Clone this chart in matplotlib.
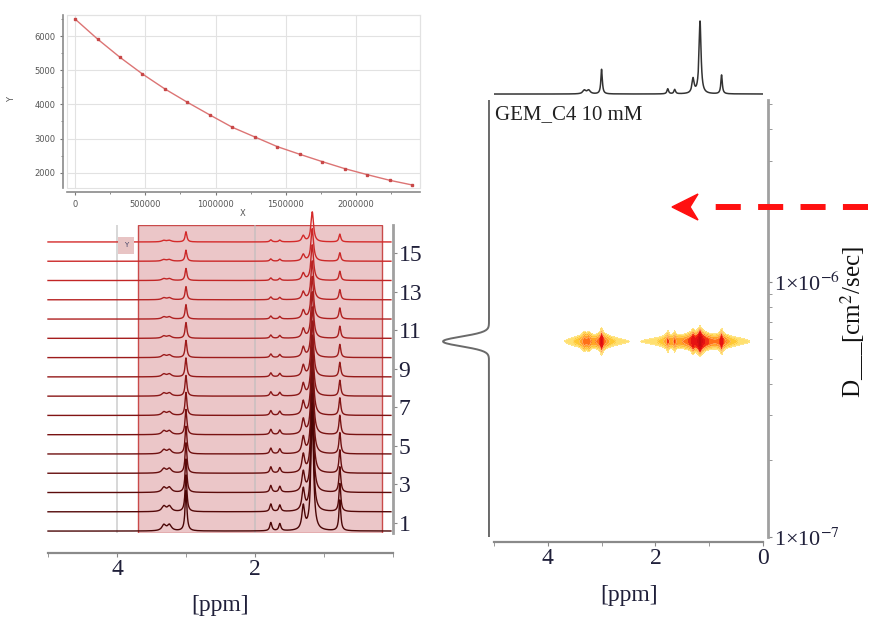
import numpy as np
import matplotlib
matplotlib.use("Agg")
import matplotlib.pyplot as plt
from matplotlib.ticker import AutoMinorLocator, FixedLocator, NullFormatter
from matplotlib.patches import Polygon, Rectangle
from matplotlib.lines import Line2D
from matplotlib.colors import to_rgb

# decay of the signal intensity with gradient strength (top left)
decay_x = [0, 160000, 320000, 480000, 640000, 800000, 960000, 1120000,
           1280000, 1440000, 1600000, 1760000, 1920000, 2080000, 2240000, 2400000]
decay_y = [6498, 5912, 5376, 4888, 4449, 4059, 3688, 3327,
           3044, 2761, 2537, 2322, 2117, 1941, 1776, 1639]

# 1H peaks of the sample: position (ppm), relative height, half width (ppm)
peak_ppm = [3.32, 3.24, 3.00, 1.77, 1.64, 1.30, 1.17, 0.77]
peak_height = [0.05, 0.05, 0.34, 0.07, 0.06, 0.20, 1.00, 0.26]
peak_width = [0.035, 0.035, 0.016, 0.018, 0.018, 0.024, 0.022, 0.016]

trace_numbers = list(range(1, 17))
stack_ticks = [1, 3, 5, 7, 9, 11, 13, 15]
integration_region = (0.16, 3.70)

# diffusion coefficient of the cross peaks (cm^2/s)
diffusion_D = 5.86e-7
D_limits = (1e-7, 5.2e-6)

W, H = 883, 621
serif = ["Liberation Serif", "DejaVu Serif"]
plt.rcParams["mathtext.fontset"] = "stix"


# converts a pixel box (top-left origin) to a figure rect
def px_rect(x0, y0, x1, y1):
    return [x0 / W, 1 - y1 / H, (x1 - x0) / W, (y1 - y0) / H]


def spectrum(ppm, width_scale=1.0):
    s = np.zeros_like(ppm)
    for c, h, w in zip(peak_ppm, peak_height, peak_width):
        w = w * width_scale
        s += h * w ** 2 / (w ** 2 + (ppm - c) ** 2)
    return s / s.max()


fig = plt.figure(figsize=(W / 100, H / 100), dpi=100)

# ---- decay curve ----
ax1 = fig.add_axes(px_rect(67, 15, 420, 188))
ax1.plot(decay_x, decay_y, color="#dc7474", lw=1, marker="s", ms=1.6,
         mfc="#c84848", mec="#c84848")
ax1.set_xlim(-57000, 2454000)
ax1.set_ylim(1552, 6615)
ax1.set_xticks([0, 500000, 1000000, 1500000, 2000000])
ax1.set_yticks([2000, 3000, 4000, 5000, 6000])
ax1.xaxis.set_minor_locator(AutoMinorLocator(2))
ax1.yaxis.set_minor_locator(AutoMinorLocator(2))
ax1.ticklabel_format(style="plain", useOffset=False)
ax1.grid(True, color="#e2e2e2", lw=0.8)
ax1.set_axisbelow(True)
for side in ["top", "right"]:
    ax1.spines[side].set_color("#e2e2e2")
for side in ["left", "bottom"]:
    ax1.spines[side].set_position(("outward", 3))
    ax1.spines[side].set_color("#8a8a8a")
    ax1.spines[side].set_linewidth(1.2)
ax1.add_patch(Rectangle((0, 0), 1, 1, transform=ax1.transAxes, fill=False,
                        ec="#e2e2e2", lw=0.8, clip_on=False))
ax1.tick_params(which="both", labelsize=6, colors="#777", labelcolor="#555", length=2)
ax1.tick_params(which="minor", length=1.5)
fig.text(12 / W, 1 - 100 / H, "Y", rotation=90, fontsize=6, color="#555",
         ha="center", va="center")
fig.text(243 / W, 1 - 213 / H, "X", fontsize=6, color="#555", ha="center", va="center")

# ---- stacked spectra ----
ax2 = fig.add_axes(px_rect(48, 225, 393, 533))
ppm = np.linspace(0.03, 5.0, 4000)
s_narrow = spectrum(ppm)
att = np.array(decay_y) / decay_y[0]
c_top = np.array(to_rgb("#d42a2a"))
c_bot = np.array(to_rgb("#4a0606"))
ax2.axvspan(*integration_region, fc="#ebc6c8", ec="#c94a4a", lw=1, zorder=0)
for x in [4, 2]:
    ax2.axvline(x, color="#bdbdbd", lw=1.2, alpha=0.7, zorder=0.5)
for i in range(len(trace_numbers) - 1, -1, -1):
    f = i / (len(trace_numbers) - 1)
    col = c_bot + (c_top - c_bot) * f
    base = trace_numbers[i] - 0.42
    ax2.plot(ppm, base + 6.2 * att[i] * s_narrow, color=col, lw=1.0,
             clip_on=False, zorder=2)
ax2.text(3.87, 15.4, "Y", fontsize=5, color="#446", ha="center", va="center",
         bbox=dict(fc="#e8c4c4", ec="none", pad=4), zorder=3)
ax2.set_xlim(5, 0)
ax2.set_ylim(0.48, 16.46)
ax2.spines["top"].set_visible(False)
ax2.spines["left"].set_visible(False)
ax2.spines["right"].set_color("#a0a0a0")
ax2.spines["right"].set_linewidth(2)
ax2.spines["bottom"].set_position(("outward", 14.4))
ax2.spines["bottom"].set_color("#8a8a8a")
ax2.spines["bottom"].set_linewidth(1.6)
ax2.yaxis.tick_right()
ax2.set_yticks(stack_ticks)
ax2.set_xticks([4, 2])
ax2.xaxis.set_minor_locator(FixedLocator([5, 3, 1, 0]))
ax2.tick_params(which="both", colors="#888", labelcolor="#20203a", labelsize=17,
                length=3, pad=1)
for lab in ax2.get_xticklabels() + ax2.get_yticklabels():
    lab.set_family(serif)
fig.text(220 / W, 1 - 606 / H, "[ppm]", fontsize=17, family=serif, color="#20203a",
         ha="center", va="center")

# ---- 1D projection on top of the DOSY map ----
ax3 = fig.add_axes(px_rect(494, 15, 763, 96))
ppm_full = np.linspace(0, 5, 4000)
ax3.plot(ppm_full, spectrum(ppm_full), color="#333", lw=1.1)
ax3.set_xlim(5, 0)
ax3.set_ylim(-0.027, 1.082)
ax3.axis("off")

# ---- DOSY map ----
ax4 = fig.add_axes(px_rect(494, 100, 763, 537))
logD = np.linspace(np.log10(D_limits[0]), np.log10(D_limits[1]), 800)
dlog = logD - np.log10(diffusion_D)
g_core = np.exp(-dlog ** 2 / (2 * 0.019 ** 2))
g_wing = np.exp(-dlog ** 2 / (2 * 0.013 ** 2))
Z = (g_core[:, None] * spectrum(ppm_full, width_scale=0.8)[None, :]
     + 0.25 * g_wing[:, None] * spectrum(ppm_full, width_scale=5.0)[None, :])
levels = 0.006 * 2.0 ** np.arange(9)
cols = ["#ffe070", "#ffc832", "#ffa424", "#ff7018", "#f43414", "#e61212",
        "#d80c10", "#c80a10"]
ax4.contourf(ppm_full, 10 ** logD, Z, levels=levels, colors=cols)
ax4.contour(ppm_full, 10 ** logD, Z, levels=levels[:4], colors="#ffeeb0",
            linewidths=0.3)
ax4.set_yscale("log")
ax4.set_xlim(5, 0)
ax4.set_ylim(*D_limits)
ax4.spines["top"].set_visible(False)
ax4.spines["left"].set_visible(False)
ax4.spines["right"].set_position(("outward", 3.6))
ax4.spines["right"].set_color("#a0a0a0")
ax4.spines["right"].set_linewidth(2)
ax4.spines["bottom"].set_position(("outward", 3.6))
ax4.spines["bottom"].set_color("#8a8a8a")
ax4.spines["bottom"].set_linewidth(1.6)
ax4.yaxis.tick_right()
ax4.set_yticks([1e-7, 1e-6])
ax4.set_yticklabels(["1×10$^{-7}$", "1×10$^{-6}$"])
ax4.yaxis.set_minor_formatter(NullFormatter())
ax4.set_xticks([4, 2, 0])
ax4.xaxis.set_minor_locator(FixedLocator([5, 3, 1]))
ax4.tick_params(which="both", colors="#888", labelcolor="#20203a", labelsize=17,
                length=3, pad=1)
ax4.tick_params(axis="y", labelsize=16)
for lab in ax4.get_xticklabels() + ax4.get_yticklabels():
    lab.set_family(serif)
fig.text(629 / W, 1 - 596 / H, "[ppm]", fontsize=17, family=serif, color="#20203a",
         ha="center", va="center")
fig.text(495 / W, 1 - 105 / H, "GEM_C4 10 mM", fontsize=15, family=serif,
         color="#222", ha="left", va="top")
fig.text(853 / W, 1 - 322 / H, "D___[cm$^2$/sec]", rotation=90, fontsize=18,
         family=serif, color="#111", ha="center", va="center")

# ---- projection along the diffusion axis ----
ax5 = fig.add_axes(px_rect(438, 100, 490, 537))
ax5.plot(g_core, 10 ** logD, color="#6a6a6a", lw=1.4)
ax5.set_yscale("log")
ax5.set_ylim(*D_limits)
ax5.set_xlim(1.109, -0.022)
ax5.axis("off")

# ---- red dashed arrow ----
fig.add_artist(Line2D([868 / W, 715 / W], [1 - 207 / H, 1 - 207 / H],
                      transform=fig.transFigure, color="#ff1010", lw=4.3,
                      linestyle=(0, (4.2, 2.9))))
head = [(672, 207), (698, 194), (690, 207), (698, 220)]
fig.add_artist(Polygon([(x / W, 1 - y / H) for x, y in head], closed=True,
                       transform=fig.transFigure, fc="#ff1010", ec="#ff1010"))

fig.savefig("out.png", dpi=100)
